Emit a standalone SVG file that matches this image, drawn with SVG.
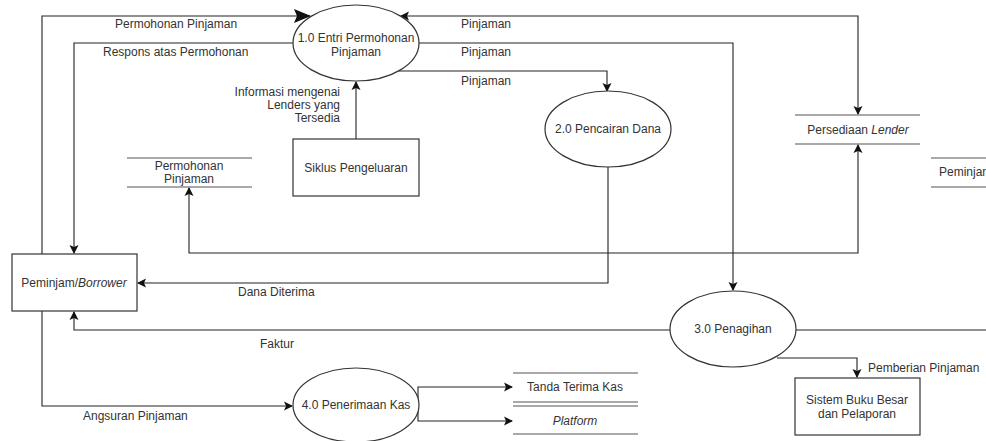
<svg xmlns="http://www.w3.org/2000/svg" width="986" height="441" viewBox="0 0 986 441">
<style>
text{font-family:"Liberation Sans",Arial,sans-serif;font-size:12px;fill:#333}
.c{text-anchor:middle}
.e{text-anchor:end}
.n{fill:#fff;stroke:#333;stroke-width:1.2}
.s{stroke:#555;stroke-width:1.2;fill:none}
.l{fill:none;stroke:#222;stroke-width:1.1}
</style>
<defs>
<marker id="a" markerUnits="userSpaceOnUse" markerWidth="10" markerHeight="10" refX="8" refY="4.5" orient="auto-start-reverse" viewBox="0 0 10 9">
<path d="M0,0 L9,4.5 L0,9 L2,4.5 Z" fill="#111"/>
</marker>
<marker id="b" markerUnits="userSpaceOnUse" markerWidth="18" markerHeight="14" refX="16" refY="7" orient="auto" viewBox="0 0 18 14">
<path d="M0,0 L17,7 L0,14 L3,7 Z" fill="#111"/>
</marker>
</defs>
<rect width="986" height="441" fill="#fff"/>
<g id="connectors">
<path class="l" d="M42,254 V16 H310" marker-end="url(#b)"/>
<path class="l" d="M293,43 H74 V253" marker-end="url(#a)"/>
<path class="l" d="M401,16 H858 V114" marker-start="url(#a)" marker-end="url(#a)"/>
<path class="l" d="M419,43 H733 V290" marker-end="url(#a)"/>
<path class="l" d="M399,71 H607 V91" marker-end="url(#a)"/>
<path class="l" d="M356,139 V82" marker-end="url(#a)"/>
<path class="l" d="M858,145 V253 H189 V188" marker-start="url(#a)" marker-end="url(#a)"/>
<path class="l" d="M608,167 V283 H138" marker-end="url(#a)"/>
<path class="l" d="M670,330 H74 V312" marker-end="url(#a)"/>
<path class="l" d="M796,330 H986"/>
<path class="l" d="M777,358 H857 V377" marker-end="url(#a)"/>
<path class="l" d="M42,311 V406 H292" marker-end="url(#a)"/>
<path class="l" d="M418,405 V387 H512" marker-end="url(#a)"/>
<path class="l" d="M418,405 V421 H512" marker-end="url(#a)"/>
<text x="115" y="28">Permohonan Pinjaman</text>
<text x="103" y="56">Respons atas Permohonan</text>
<text x="461" y="28">Pinjaman</text>
<text x="461" y="56">Pinjaman</text>
<text x="461" y="85">Pinjaman</text>
<text class="e" x="340" y="96">Informasi mengenai</text>
<text class="e" x="340" y="109">Lenders yang</text>
<text class="e" x="340" y="122">Tersedia</text>
<text x="238" y="296">Dana Diterima</text>
<text x="260" y="348">Faktur</text>
<text x="83" y="420">Angsuran Pinjaman</text>
<text x="868" y="372">Pemberian Pinjaman</text>
</g>
<g id="p1">
<ellipse class="n" cx="356" cy="43" rx="63" ry="38"/>
<text class="c" x="356" y="42">1.0 Entri Permohonan</text>
<text class="c" x="356" y="56">Pinjaman</text>
</g>
<g id="p2">
<ellipse class="n" cx="608" cy="129" rx="63" ry="38"/>
<text class="c" x="608" y="133">2.0 Pencairan Dana</text>
</g>
<g id="p3">
<ellipse class="n" cx="733" cy="329" rx="63" ry="38"/>
<text class="c" x="733" y="333">3.0 Penagihan</text>
</g>
<g id="p4">
<ellipse class="n" cx="356" cy="405" rx="63" ry="37"/>
<text class="c" x="356" y="409">4.0 Penerimaan Kas</text>
</g>
<g id="siklus">
<rect class="n" x="293" y="139" width="126" height="57"/>
<text class="c" x="356" y="172">Siklus Pengeluaran</text>
</g>
<g id="borrower">
<rect class="n" x="12" y="254" width="125" height="57"/>
<text class="c" x="74" y="287">Peminjam/<tspan font-style="italic">Borrower</tspan></text>
</g>
<g id="sistem">
<rect class="n" x="795" y="378" width="125" height="57"/>
<text class="c" x="857" y="404">Sistem Buku Besar</text>
<text class="c" x="857" y="418">dan Pelaporan</text>
</g>
<g id="store-permohonan">
<path class="s" d="M127,158 H252 M127,187 H252"/>
<text class="c" x="189" y="170">Permohonan</text>
<text class="c" x="189" y="183">Pinjaman</text>
</g>
<g id="store-lender">
<path class="s" d="M795,115 H920 M795,144 H920"/>
<text class="c" x="858" y="134">Persediaan <tspan font-style="italic">Lender</tspan></text>
</g>
<g id="store-peminjam">
<path class="s" d="M931,158 H986 M931,187 H986"/>
<text x="939" y="176">Peminjaman</text>
</g>
<g id="store-tanda">
<path class="s" d="M513,373 H638 M513,402 H638"/>
<text class="c" x="575" y="391">Tanda Terima Kas</text>
</g>
<g id="store-platform">
<path class="s" d="M513,406 H638 M513,434 H638"/>
<text class="c" x="575" y="425" font-style="italic">Platform</text>
</g>
</svg>
